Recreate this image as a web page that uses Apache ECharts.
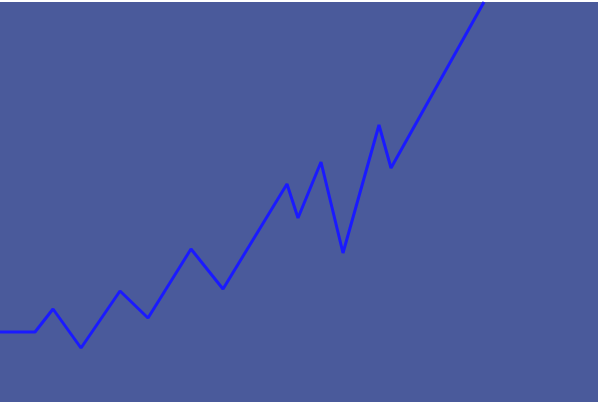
<!DOCTYPE html>
<html>
<head>
<meta charset="utf-8">
<script src="https://cdn.jsdelivr.net/npm/echarts@6/dist/echarts.min.js"></script>
<style>html,body{margin:0;padding:0;background:#fff}#c{width:600px;height:403px}</style>
</head>
<body>
<div id="c"></div>
<script>
const xValues = [0, 35, 53, 81, 120, 148, 191, 223, 287, 298, 321, 343, 379, 391, 484];
const yValues = [70, 70, 93, 54, 111, 84, 153, 113, 218, 184, 240, 149, 277, 234, 400];
const xMax = 598;
const yMax = 400;

const chart = echarts.init(document.getElementById('c'));
chart.setOption({
  animation: false,
  backgroundColor: '#ffffff',
  grid: { left: 0, right: 2, top: 2, bottom: 1, show: true, backgroundColor: '#4a5a9b', borderWidth: 0 },
  xAxis: { type: 'value', min: 0, max: xMax, show: false },
  yAxis: { type: 'value', min: 0, max: yMax, show: false },
  series: [{
    type: 'line',
    data: xValues.map((x, i) => [x, yValues[i]]),
    showSymbol: false,
    clip: false,
    lineStyle: { color: '#1a1aff', width: 3 }
  }]
});
</script>
</body>
</html>
